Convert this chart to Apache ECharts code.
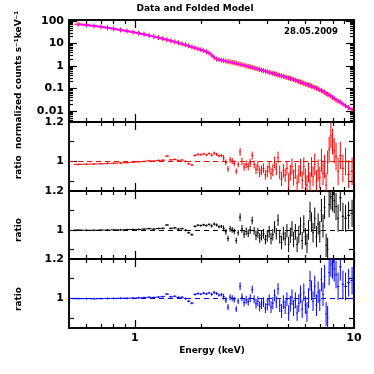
<!DOCTYPE html>
<html>
<head>
<meta charset="utf-8">
<title>Data and Folded Model</title>
<script src="https://cdn.jsdelivr.net/npm/echarts@6.0.0/dist/echarts.min.js"></script>
<style>
  html, body { margin: 0; padding: 0; background: #fff; }
  #chart { width: 374px; height: 374px; }
</style>
</head>
<body>
<div id="chart"></div>
<script>
// channel energies (keV), same binning in all panels
var energy = [
  0.55, 0.60, 0.65, 0.70, 0.75, 0.80, 0.86, 0.92, 0.98, 1.04,
  1.10, 1.16, 1.22, 1.28, 1.34, 1.40, 1.46, 1.52, 1.58, 1.64,
  1.70, 1.76, 1.82, 1.88, 1.94, 2.00, 2.06, 2.12, 2.18, 2.24,
  2.30, 2.36, 2.42, 2.48, 2.54, 2.60, 2.66, 2.72, 2.78, 2.84,
  2.90, 2.96, 3.02, 3.08, 3.15, 3.22, 3.29, 3.36, 3.43, 3.50,
  3.57, 3.64, 3.71, 3.78, 3.86, 3.94, 4.02, 4.10, 4.18, 4.26,
  4.34, 4.42, 4.50, 4.58, 4.67, 4.76, 4.85, 4.94, 5.03, 5.12,
  5.21, 5.30, 5.40, 5.50, 5.60, 5.70, 5.80, 5.90, 6.00, 6.10,
  6.20, 6.30, 6.40, 6.50, 6.62, 6.74, 6.86, 6.98, 7.10, 7.22,
  7.34, 7.46, 7.58, 7.70, 7.84, 7.98, 8.12, 8.28, 8.46, 8.66,
  8.90, 9.15, 9.45, 9.80
];
// normalized counts s^-1 keV^-1
var counts = [
  72, 66, 60, 55, 50, 45, 40, 36, 32, 29,
  26, 23, 20.5, 18.5, 16.5, 14.7, 13.2, 12.0, 10.8, 9.7,
  8.8, 7.9, 7.0, 6.4, 5.8, 5.3, 4.8, 4.3, 3.8, 3.0,
  2.35, 2.05, 1.92, 1.82, 1.74, 1.66, 1.58, 1.52, 1.45, 1.39,
  1.32, 1.25, 1.19, 1.13, 1.07, 1.01, 0.96, 0.91, 0.86, 0.81,
  0.77, 0.73, 0.69, 0.66, 0.62, 0.59, 0.555, 0.525, 0.50, 0.475,
  0.45, 0.425, 0.40, 0.385, 0.365, 0.345, 0.325, 0.31, 0.295, 0.28,
  0.265, 0.25, 0.235, 0.22, 0.205, 0.193, 0.181, 0.170, 0.160, 0.151,
  0.143, 0.135, 0.127, 0.120, 0.111, 0.103, 0.095, 0.087, 0.080, 0.074,
  0.068, 0.059, 0.056, 0.051, 0.047, 0.040, 0.036, 0.030, 0.028, 0.025,
  0.020, 0.017, 0.014, 0.0115
];
// relative 1 sigma errors of the data
var relErr = [
  0.004, 0.004, 0.004, 0.004, 0.004, 0.004, 0.004, 0.004, 0.004, 0.005,
  0.005, 0.005, 0.005, 0.005, 0.005, 0.005, 0.005, 0.005, 0.005, 0.005,
  0.006, 0.006, 0.006, 0.006, 0.006, 0.006, 0.006, 0.006, 0.006, 0.008,
  0.008, 0.008, 0.008, 0.008, 0.015, 0.015, 0.015, 0.015, 0.015, 0.015,
  0.015, 0.015, 0.02, 0.02, 0.02, 0.02, 0.02, 0.02, 0.02, 0.02,
  0.025, 0.025, 0.025, 0.025, 0.025, 0.025, 0.03, 0.03, 0.03, 0.03,
  0.03, 0.03, 0.03, 0.035, 0.035, 0.035, 0.035, 0.035, 0.04, 0.04,
  0.04, 0.04, 0.04, 0.04, 0.045, 0.045, 0.045, 0.045, 0.045, 0.05,
  0.05, 0.05, 0.05, 0.05, 0.055, 0.055, 0.055, 0.055, 0.06, 0.06,
  0.06, 0.06, 0.06, 0.065, 0.065, 0.065, 0.065, 0.07, 0.07, 0.07,
  0.07, 0.07, 0.07, 0.07
];
// folded model
var modelEnergy = [0.55, 0.6, 0.7, 0.8, 0.9, 1.0, 1.2, 1.4, 1.6, 1.8, 2.0, 2.1, 2.2, 2.25, 2.3, 2.4,
  2.6, 3.0, 3.5, 4.0, 4.5, 5.0, 5.5, 6.0, 6.5, 7.0, 7.5, 8.0, 8.5, 9.0, 9.5, 9.8];
var modelCounts = [72, 66, 55, 45, 37, 31, 21, 14.6, 10.2, 7.2, 5.3, 4.5, 3.7, 3.0, 2.35, 1.95,
  1.64, 1.21, 0.81, 0.56, 0.40, 0.30, 0.22, 0.16, 0.12, 0.086, 0.061, 0.040, 0.027, 0.019, 0.0135, 0.0118];
// data / model ratios
var ratioRed = [
  0.985, 0.986, 0.987, 0.988, 0.990, 0.991, 0.992, 0.994, 0.996, 0.998,
  1.000, 1.003, 1.002, 1.005, 1.006, 1.027, 1.008, 1.010, 1.004, 1.007,
  1.000, 0.988, 0.982, 1.030, 1.036, 1.034, 1.038, 1.033, 1.040, 1.032,
  1.042, 1.036, 1.028, 1.030, 1.018, 0.995, 0.962, 1.008, 1.002, 0.990,
  0.950, 0.985, 1.048, 1.000, 0.972, 0.985, 0.975, 0.992, 1.030, 0.985,
  0.960, 0.975, 0.945, 0.955, 0.965, 0.932, 0.950, 0.972, 0.938, 0.955,
  0.995, 0.960, 1.020, 0.945, 0.910, 0.952, 0.930, 0.965, 0.900, 0.942,
  0.975, 0.918, 0.952, 0.890, 0.935, 0.968, 0.905, 0.975, 0.920, 0.880,
  0.945, 0.895, 0.972, 0.925, 0.985, 0.900, 0.955, 0.918, 1.005, 0.940,
  0.975, 0.880, 0.995, 1.060, 1.130, 1.100, 1.055, 1.025, 0.950, 1.030,
  0.965, 1.000, 0.935, 0.950
];
var ratioBlack = [
  0.999, 0.998, 0.998, 0.999, 0.999, 1.000, 1.000, 1.001, 1.002, 1.002,
  1.004, 1.006, 1.004, 1.007, 1.008, 1.025, 1.008, 1.010, 1.004, 1.006,
  0.998, 0.985, 0.975, 1.018, 1.024, 1.022, 1.026, 1.022, 1.028, 1.020,
  1.030, 1.025, 1.016, 1.018, 1.008, 0.990, 0.955, 1.005, 1.000, 0.992,
  0.945, 0.985, 1.065, 1.005, 0.978, 0.992, 0.982, 1.000, 1.048, 0.995,
  0.972, 0.985, 0.958, 0.970, 0.980, 0.950, 0.968, 0.990, 0.955, 0.975,
  1.015, 0.980, 1.050, 0.965, 0.935, 0.980, 0.955, 0.995, 0.925, 0.972,
  1.005, 0.950, 0.990, 0.925, 0.975, 1.020, 0.945, 1.030, 0.965, 0.930,
  1.000, 1.095, 1.040, 0.985, 1.060, 0.965, 1.030, 0.990, 1.100, 1.020,
  1.115, 0.920, 0.900, 1.130, 1.170, 1.160, 1.150, 1.120, 1.060, 1.165,
  1.070, 1.060, 1.075, 1.085
];
var ratioBlue = [
  0.999, 0.999, 0.998, 0.999, 1.000, 1.000, 1.001, 1.001, 1.002, 1.003,
  1.004, 1.006, 1.005, 1.007, 1.009, 1.022, 1.008, 1.011, 1.005, 1.006,
  0.999, 0.986, 0.976, 1.020, 1.025, 1.022, 1.027, 1.023, 1.028, 1.021,
  1.031, 1.025, 1.017, 1.019, 1.009, 0.991, 0.956, 1.006, 1.001, 0.993,
  0.946, 0.986, 1.062, 1.006, 0.979, 0.993, 0.983, 1.001, 1.045, 0.996,
  0.973, 0.986, 0.959, 0.971, 0.981, 0.951, 0.969, 0.991, 0.956, 0.976,
  1.016, 0.981, 1.048, 0.966, 0.936, 0.981, 0.956, 0.996, 0.926, 0.973,
  1.006, 0.951, 0.991, 0.926, 0.976, 1.021, 0.946, 1.031, 0.966, 0.931,
  1.001, 1.090, 1.041, 0.986, 1.061, 0.966, 1.031, 0.991, 1.095, 1.021,
  1.110, 0.921, 0.902, 1.131, 1.175, 1.165, 1.150, 1.121, 1.061, 1.160,
  1.072, 1.061, 1.080, 1.090
];
// ticks and tick labels
var xMajor = [1, 10];
var xMinor = [0.6, 0.7, 0.8, 0.9, 2, 3, 4, 5, 6, 7, 8, 9];
var xLabels = [1, 10];
var countMajor = [0.01, 0.1, 1, 10, 100];
var countMinor = [0.004, 0.005, 0.006, 0.007, 0.008, 0.009, 0.02, 0.03, 0.04, 0.05, 0.06, 0.07, 0.08, 0.09,
  0.2, 0.3, 0.4, 0.5, 0.6, 0.7, 0.8, 0.9, 2, 3, 4, 5, 6, 7, 8, 9, 20, 30, 40, 50, 60, 70, 80, 90];
var countLabels = [0.01, 0.1, 1, 10, 100];
var ratioMajor = [1];
var ratioMinor = [0.9, 1.1];
var ratioLabels = [1, 1.2];

var FONT = 'DejaVu Sans';

function axis(type, grid, pos, min, max, ticks, len, labels) {
  return {
    type: type, gridIndex: grid, position: pos, min: min, max: max,
    axisLine: {show: true, onZero: false, lineStyle: {color: '#000', width: 1.5}},
    axisTick: {show: true, inside: true, length: len, customValues: ticks, lineStyle: {color: '#000', width: 1.2}},
    axisLabel: labels ? {
      show: true, customValues: labels, margin: 5, color: '#000',
      fontFamily: FONT, fontWeight: 'bold', fontSize: 11
    } : {show: false},
    splitLine: {show: false}
  };
}

var grids = [
  {left: 69, right: 20, top: 20, height: 102},
  {left: 69, right: 20, top: 122, height: 69},
  {left: 69, right: 20, top: 191, height: 68},
  {left: 69, right: 20, top: 259, height: 69}
];
var xAxes = [], yAxes = [];
grids.forEach(function (g, i) {
  xAxes.push(axis('log', i, 'bottom', 0.5, 10, xMajor, 8, i === 3 ? xLabels : null));
  xAxes.push(axis('log', i, 'bottom', 0.5, 10, xMinor, 4, null));
  xAxes.push(axis('log', i, 'top', 0.5, 10, xMajor, 8, null));
  xAxes.push(axis('log', i, 'top', 0.5, 10, xMinor, 4, null));
  if (i === 0) {
    yAxes.push(axis('log', i, 'left', 0.00324, 110.8, countMajor, 8, countLabels));
    yAxes.push(axis('log', i, 'left', 0.00324, 110.8, countMinor, 4, null));
    yAxes.push(axis('log', i, 'right', 0.00324, 110.8, countMajor, 8, null));
    yAxes.push(axis('log', i, 'right', 0.00324, 110.8, countMinor, 4, null));
  } else {
    yAxes.push(axis('value', i, 'left', 0.85, 1.2, ratioMajor, 8, ratioLabels));
    yAxes.push(axis('value', i, 'left', 0.85, 1.2, ratioMinor, 5, null));
    yAxes.push(axis('value', i, 'right', 0.85, 1.2, ratioMajor, 8, null));
    yAxes.push(axis('value', i, 'right', 0.85, 1.2, ratioMinor, 5, null));
  }
});

// geometric bin edges from neighbouring channels
function binEdges(i) {
  var n = energy.length;
  var prev = i > 0 ? energy[i - 1] : energy[0] * energy[0] / energy[1];
  var next = i < n - 1 ? energy[i + 1] : energy[n - 1] * energy[n - 1] / energy[n - 2];
  return [Math.sqrt(prev * energy[i]), Math.sqrt(energy[i] * next)];
}
function ratioRows(r) {
  return energy.map(function (e, i) {
    var b = binEdges(i);
    return [e, r[i], b[0], b[1], r[i] - relErr[i], r[i] + relErr[i]];
  });
}
var countRows = energy.map(function (e, i) {
  var b = binEdges(i);
  return [e, counts[i], b[0], b[1], counts[i] * (1 - relErr[i]), counts[i] * (1 + relErr[i])];
});

// data cross: bin width horizontally, error vertically (with a minimum size)
function crossRenderer(minHalf) {
  return function (params, api) {
    var e = api.value(0), v = api.value(1);
    var mid = api.coord([e, v]);
    var left = api.coord([api.value(2), v]);
    var right = api.coord([api.value(3), v]);
    var low = api.coord([e, api.value(4)]);
    var high = api.coord([e, api.value(5)]);
    var y1 = Math.max(low[1], mid[1] + minHalf);
    var y2 = Math.min(high[1], mid[1] - minHalf);
    var cs = params.coordSys;
    var style = {stroke: api.visual('color'), lineWidth: 1};
    return {
      type: 'group',
      clipPath: {type: 'rect', shape: {x: cs.x, y: cs.y, width: cs.width, height: cs.height}},
      children: [
        {type: 'line', shape: {x1: left[0], y1: mid[1], x2: right[0], y2: mid[1]}, style: style},
        {type: 'line', shape: {x1: mid[0], y1: y1, x2: mid[0], y2: y2}, style: style}
      ]
    };
  };
}

function crossSeries(grid, rows, color, unity, minHalf) {
  var s = {
    type: 'custom', xAxisIndex: grid * 4, yAxisIndex: grid * 4,
    data: rows, renderItem: crossRenderer(minHalf), encode: {x: 0, y: 1},
    itemStyle: {color: color}, silent: true, animation: false
  };
  if (unity) {
    s.markLine = {
      silent: true, symbol: 'none', animation: false, label: {show: false},
      lineStyle: {color: color, type: [5, 4], width: 1},
      data: [{yAxis: 1}]
    };
  }
  return s;
}

function caption(text, x, y, size, rotated) {
  return {
    type: 'text', x: x, y: y, rotation: rotated ? Math.PI / 2 : 0,
    style: {
      text: text, font: 'bold ' + size + 'px "DejaVu Sans"', fill: '#000',
      textAlign: 'center', textVerticalAlign: 'middle', align: 'center', verticalAlign: 'middle'
    }
  };
}

var option = {
  backgroundColor: '#fff',
  animation: false,
  grid: grids,
  xAxis: xAxes,
  yAxis: yAxes,
  series: [
    crossSeries(0, countRows, '#ff0000', false, 2.5),
    {
      type: 'line', xAxisIndex: 0, yAxisIndex: 0, z: 3,
      data: modelEnergy.map(function (e, i) { return [e, modelCounts[i]]; }),
      symbol: 'none', lineStyle: {color: '#ff00ff', width: 2}, silent: true
    },
    crossSeries(1, ratioRows(ratioRed), '#ff0000', true, 1),
    crossSeries(2, ratioRows(ratioBlack), '#000000', true, 1),
    crossSeries(3, ratioRows(ratioBlue), '#0000ff', true, 1)
  ],
  graphic: [
    caption('Data and Folded Model', 195, 9, 9, false),
    caption('28.05.2009', 311, 32, 8.5, false),
    caption('Energy (keV)', 212, 351, 9, false),
    caption('ratio  normalized counts s\u207B\u00B9keV\u207B\u00B9', 19, 95, 9, true),
    caption('ratio', 19, 230, 9, true),
    caption('ratio', 19, 299, 9, true)
  ]
};

var chart = echarts.init(document.getElementById('chart'));
chart.setOption(option);
window.onresize = chart.resize;
</script>
</body>
</html>
